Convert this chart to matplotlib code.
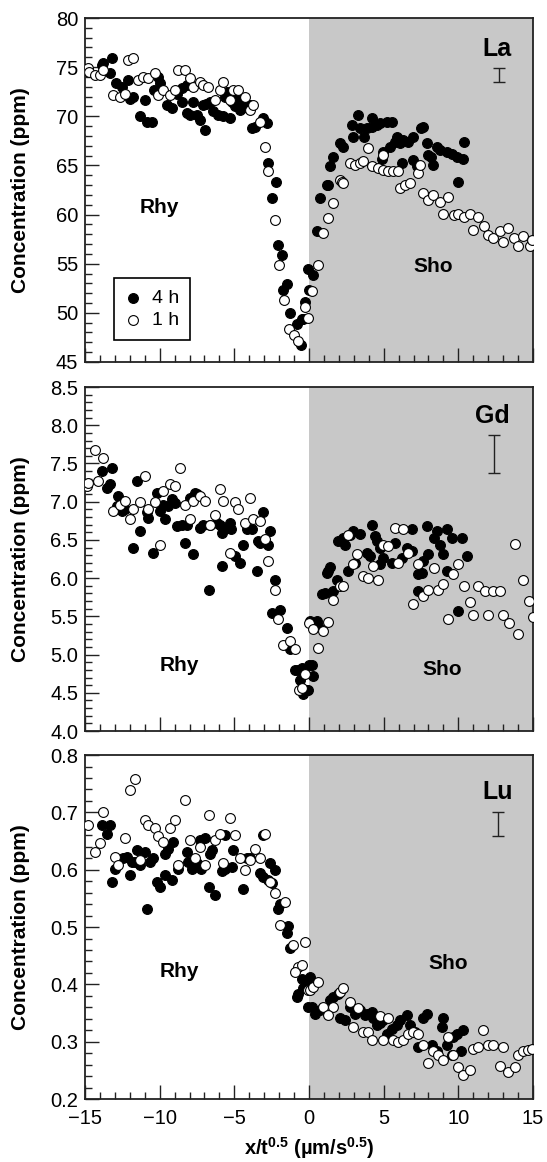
import matplotlib
matplotlib.use("Agg")
import matplotlib.pyplot as plt
from matplotlib.ticker import MultipleLocator, FormatStrFormatter

plt.rcParams['font.family'] = ['Liberation Sans', 'DejaVu Sans']
plt.rcParams['mathtext.fontset'] = 'custom'
plt.rcParams['mathtext.rm'] = 'Liberation Sans'
plt.rcParams['mathtext.bf'] = 'Liberation Sans:bold'
plt.rcParams['mathtext.it'] = 'Liberation Sans:italic'

# ---- La (ppm) ----
la_4h_x = [-13.88, -13.77, -13.2, -13.3, -12.9, -12.55, -12.1, -12.0, -11.77, -11.3, -10.98, -10.87,
           -10.53, -10.4, -10.1, -9.98, -9.53, -9.2, -8.86, -8.5, -8.5, -8.2, -8.2, -7.98, -7.76,
           -7.53, -7.3, -7.1, -6.87, -6.97, -6.63, -6.4, -6.07, -5.74, -5.3, -5.6, -5.5, -5.18,
           -4.96, -4.62, -4.85, -4.4, -4.5, -3.95, -3.84, -3.6, -3.06, -2.83, -2.73, -2.2,
           -2.5, -2.05, -1.83, -1.45, -1.72, -1.27, -0.82, -0.56, -0.38, -0.05, 0.0, 0.29, -0.27, -0.49,
           0.51, 0.74, 1.29, 1.19, 1.41, 1.63, 2.08, 2.3, 2.97, 2.86, 3.3, 3.4, 3.7, 3.86, 4.2, 4.2,
           4.53, 4.76, 4.87, 4.98, 5.2, 5.43, 5.54, 5.76, 5.87, 6.1, 6.21, 6.32, 6.65, 6.98, 6.98,
           7.2, 7.5, 7.66, 7.88, 8.0, 8.2, 8.3, 8.55, 8.77, 9.22, 9.56, 9.89, 10.0, 10.3, 10.4]
la_4h_y = [75.2, 75.4, 75.9, 74.4, 73.4, 73.0, 73.7, 71.8, 72.0, 70.0, 71.7, 69.45,
           69.45, 72.7, 74.0, 73.4, 71.15, 70.8, 72.3, 72.85, 71.5, 73.2, 70.3, 70.1, 71.5,
           70.1, 69.6, 71.15, 71.3, 68.6, 71.5, 70.5, 70.1, 70.0, 69.8, 72.0, 72.5, 71.5,
           71.0, 70.6, 72.0, 71.3, 70.8, 71.15, 68.8, 68.9, 69.8, 69.3, 65.2, 63.35,
           61.7, 56.9, 55.9, 52.9, 52.3, 50.0, 48.9, 46.7, 49.4, 54.5, 52.3, 53.9, 51.1, 49.4,
           58.3, 61.7, 63.0, 63.0, 64.9, 65.9, 67.25, 66.9, 67.9, 69.1, 70.1, 68.8, 67.9, 68.8, 69.8, 68.9,
           69.1, 69.3, 65.7, 66.4, 69.45, 66.9, 69.45, 67.4, 67.9, 67.25, 65.2, 67.6, 67.4, 67.9, 65.55,
           64.9, 68.8, 68.9, 67.25, 66.1, 65.9, 65.05, 66.9, 66.6, 66.4, 66.2, 65.9, 63.35, 65.7, 67.4]
la_1h_x = [-14.8, -14.7, -14.3, -13.98, -13.77, -13.1, -12.66, -12.3, -12.1, -11.77, -11.43, -11.1,
           -10.76, -10.3, -10.1, -9.76, -9.3, -8.97, -8.75, -8.3, -7.98, -7.76, -7.3, -7.1, -6.75,
           -6.3, -5.97, -5.74, -5.3, -5.07, -4.74, -4.29, -3.95, -3.73, -3.28, -2.95, -2.73, -2.28,
           -1.99, -1.65, -1.32, -0.98, -0.72, -0.27, -0.05, 0.18, 0.62, 0.96, 1.29, 1.63, 2.08, 2.19,
           2.3, 2.75, 3.08, 3.42, 3.64, 3.97, 4.2, 4.64, 4.98, 4.98, 5.31, 5.65, 5.98, 6.1, 6.43,
           6.76, 7.32, 7.43, 7.65, 8.0, 8.3, 8.77, 9.3, 9.0, 9.7, 10.0, 10.35, 10.8, 11.35, 11.0,
           11.7, 12.0, 12.35, 12.8, 13.35, 13.0, 13.7, 14.0, 14.35, 14.8, 14.9]
la_1h_y = [74.9, 74.55, 74.2, 74.2, 74.7, 72.2, 72.0, 72.3, 75.7, 75.9, 73.7, 74.0,
           73.9, 74.4, 72.2, 72.7, 72.2, 72.7, 74.7, 74.7, 73.9, 73.0, 73.5, 73.2, 73.0,
           71.7, 72.7, 73.5, 71.7, 72.7, 72.7, 72.0, 70.6, 71.15, 69.45, 66.9, 64.4, 59.4,
           54.9, 51.3, 48.4, 47.75, 47.1, 50.6, 49.45, 52.2, 54.9, 58.1, 59.6, 61.15, 63.5, 63.35,
           63.2, 65.2, 65.05, 65.2, 65.4, 66.75, 64.9, 64.7, 64.5, 66.1, 64.4, 64.4, 64.4, 62.7, 63.0,
           63.2, 64.2, 65.05, 62.2, 61.5, 62.0, 61.3, 61.8, 60.1, 60.0, 60.1, 59.8, 60.1, 59.8, 58.4,
           58.8, 57.9, 57.6, 58.3, 58.6, 57.2, 57.6, 56.8, 57.8, 56.8, 57.4]

# ---- Gd (ppm) ----
gd_4h_x = [-13.88, -13.2, -13.55, -13.3, -12.77, -12.88, -12.55, -12.3, -11.77, -11.54, -11.32, -10.87,
           -10.76, -10.43, -10.2, -9.98, -9.64, -9.76, -9.42, -9.2, -8.97, -8.86, -8.53, -8.3, -8.2,
           -7.98, -7.64, -7.76, -7.53, -7.3, -7.08, -6.63, -6.18, -5.96, -5.85, -5.52, -5.3, -5.2,
           -5.85, -4.96, -4.62, -4.4, -4.18, -3.84, -3.5, -3.4, -3.28, -3.06, -2.73, -2.62, -2.28,
           -6.68, -2.5, -1.94, -1.5, -1.27, -0.94, -0.72, -0.6, -0.38, -0.05, 0.0, -0.49, 0.18, 0.29,
           -0.16, 0.07, 0.51, 0.62, 0.85, 1.07, 1.63, 1.85, 1.41, 1.29, 1.19, 1.96, 2.3, 2.41, 2.63,
           2.75, 2.97, 3.08, 3.42, 3.86, 4.09, 4.2, 4.42, 4.53, 4.76, 4.76, 4.98, 5.54, 5.76, 6.23,
           6.57, 6.91, 6.91, 7.32, 7.32, 7.54, 7.66, 7.91, 8.0, 8.35, 8.58, 8.79, 9.0, 9.22, 9.25,
           9.58, 10.0, 10.25, 10.56]
gd_4h_y = [7.40, 7.44, 7.18, 7.23, 7.07, 6.94, 6.88, 6.90, 6.40, 7.27, 6.62, 6.86,
           6.79, 6.33, 7.12, 6.88, 6.77, 6.96, 6.94, 7.03, 6.98, 6.68, 6.70, 6.46, 6.70,
           7.05, 7.12, 6.31, 7.10, 6.66, 6.70, 6.70, 6.72, 6.70, 6.59, 6.66, 6.72, 6.64,
           6.16, 6.29, 6.20, 6.44, 6.64, 6.64, 6.09, 6.48, 6.46, 6.86, 6.44, 6.62, 5.97,
           5.84, 5.55, 5.58, 5.35, 5.07, 4.80, 4.80, 4.67, 4.48, 4.54, 4.87, 4.83, 4.87, 4.72,
           4.54, 5.44, 5.44, 5.37, 5.79, 5.81, 5.83, 5.98, 6.14, 6.09, 6.07, 6.48, 6.53, 6.44, 6.09,
           6.57, 6.62, 6.20, 6.58, 6.33, 6.29, 6.69, 6.55, 6.48, 6.40, 6.18, 6.27, 6.20, 6.46, 6.27,
           6.40, 6.35, 6.64, 5.83, 6.05, 6.07, 6.22, 6.68, 6.31, 6.53, 6.62, 6.44, 6.31, 6.09, 6.64,
           6.52, 5.57, 6.53, 6.29]
gd_1h_x = [-14.89, -14.78, -14.33, -14.1, -13.77, -13.1, -12.66, -12.32, -11.99, -11.77, -11.32, -10.98,
           -10.76, -10.3, -9.98, -9.76, -9.3, -8.97, -8.64, -8.3, -7.98, -7.76, -7.3, -6.97, -6.63,
           -6.3, -5.96, -5.74, -5.3, -4.96, -4.74, -4.29, -3.96, -3.73, -3.28, -2.95, -2.73, -2.28,
           -2.06, -1.72, -1.27, -0.94, -0.65, -0.27, 0.0, 0.29, 0.96, 1.29, 0.62, -0.49, 1.63, 2.08,
           2.3, 2.63, 2.97, 3.19, 3.64, 3.97, 4.31, 4.64, 4.98, 5.31, 5.76, 6.32, 5.98, 6.65, 6.98,
           7.32, 7.65, 8.0, 8.35, 8.66, 9.0, 9.33, 9.65, 9.98, 10.35, 10.78, 11.0, 11.35, 11.8, 12.0,
           12.35, 12.8, 13.0, 13.36, 13.8, 14.0, 14.36, 14.75, 14.97]
gd_1h_y = [7.20, 7.25, 7.68, 7.27, 7.57, 6.88, 6.96, 7.01, 6.77, 6.90, 6.99, 7.33,
           6.90, 6.99, 6.44, 7.14, 7.23, 7.20, 7.44, 6.96, 6.77, 7.01, 7.07, 7.01, 6.70,
           6.83, 7.16, 7.01, 6.33, 6.99, 6.90, 6.72, 7.05, 6.77, 6.75, 6.51, 6.22, 5.84,
           5.46, 5.13, 5.18, 5.07, 4.54, 4.74, 5.41, 5.33, 5.31, 5.42, 5.09, 4.56, 5.72, 5.90,
           5.90, 6.57, 6.18, 6.31, 6.03, 6.00, 6.16, 5.98, 6.44, 6.42, 6.66, 6.64, 6.20, 6.33, 5.66,
           6.18, 5.76, 5.85, 6.13, 5.85, 5.92, 5.47, 6.05, 6.18, 5.90, 5.69, 5.52, 5.90, 5.83, 5.52,
           5.83, 5.83, 5.52, 5.41, 6.45, 5.27, 5.97, 5.70, 5.49]

# ---- Lu (ppm) ----
lu_4h_x = [-13.88, -13.32, -13.55, -13.21, -12.99, -12.43, -12.2, -11.99, -11.87, -11.65, -11.54, -11.32,
           -10.98, -10.87, -10.65, -10.43, -10.2, -9.98, -9.64, -9.64, -9.42, -9.09, -9.2, -8.75, -8.2,
           -8.08, -7.86, -7.53, -7.2, -7.3, -6.97, -6.63, -6.52, -6.68, -6.3, -5.85, -5.62, -5.18,
           -5.62, -5.08, -4.4, -4.18, -3.95, -3.28, -3.06, -2.72, -2.5, -2.62, -2.28, -3.06, -2.06,
           -1.94, -1.5, -1.39, -1.27, -0.49, -0.16, -0.38, -0.83, -0.72, -0.05, 0.07, 0.18, 0.4, 0.74,
           1.63, 1.41, 1.96, 2.08, 2.41, 2.75, 3.08, 3.42, 3.75, 3.86, 4.2, 4.31, 4.53, 4.76, 4.98,
           5.2, 5.54, 5.87, 6.1, 6.54, 6.77, 7.1, 7.32, 7.66, 7.88, 8.21, 8.54, 8.99, 8.88, 9.21,
           9.66, 9.88, 10.32, 10.21, 9.55]
lu_4h_y = [0.678, 0.678, 0.663, 0.579, 0.602, 0.620, 0.623, 0.591, 0.614, 0.614, 0.634, 0.608,
           0.631, 0.532, 0.614, 0.620, 0.579, 0.570, 0.591, 0.628, 0.637, 0.649, 0.582, 0.602, 0.631,
           0.614, 0.602, 0.611, 0.602, 0.652, 0.655, 0.628, 0.634, 0.570, 0.556, 0.597, 0.602, 0.605,
           0.660, 0.634, 0.567, 0.620, 0.620, 0.594, 0.588, 0.582, 0.576, 0.611, 0.599, 0.660, 0.532,
           0.541, 0.489, 0.501, 0.463, 0.410, 0.402, 0.393, 0.378, 0.384, 0.361, 0.413, 0.361, 0.349, 0.355,
           0.378, 0.373, 0.384, 0.341, 0.338, 0.361, 0.349, 0.355, 0.347, 0.349, 0.352, 0.341, 0.329, 0.332, 0.338,
           0.314, 0.323, 0.329, 0.338, 0.347, 0.329, 0.317, 0.291, 0.341, 0.349, 0.294, 0.283, 0.341, 0.326, 0.294,
           0.309, 0.314, 0.320, 0.283, 0.277]
lu_1h_x = [-14.78, -13.77, -14.33, -14.0, -12.99, -12.77, -12.32, -11.99, -11.65, -11.32, -10.98, -10.76,
           -10.31, -10.09, -9.76, -9.31, -8.97, -8.75, -8.3, -7.97, -7.64, -7.31, -6.97, -6.68, -6.31,
           -5.97, -5.74, -5.29, -4.96, -4.62, -4.29, -3.95, -3.62, -3.28, -2.95, -2.61, -2.28, -1.61,
           -1.94, -1.05, -0.27, -0.72, -0.94, -0.05, -0.49, 0.07, 0.29, 0.62, 0.96, 1.63, 1.29, 2.08,
           2.3, 2.75, 3.31, 2.97, 3.64, 3.97, 4.2, 4.98, 4.76, 5.31, 5.65, 5.98, 6.32, 6.65, 6.98,
           7.32, 7.66, 7.99, 8.33, 8.66, 8.99, 9.33, 9.66, 9.99, 10.32, 10.77, 10.99, 11.32, 11.66,
           11.99, 12.32, 12.99, 12.78, 13.35, 13.79, 14.0, 14.34, 14.68, 14.9]
lu_1h_y = [0.678, 0.701, 0.631, 0.646, 0.623, 0.608, 0.655, 0.739, 0.759, 0.617, 0.687, 0.678,
           0.672, 0.658, 0.649, 0.672, 0.687, 0.608, 0.721, 0.652, 0.620, 0.640, 0.608, 0.695, 0.652,
           0.663, 0.611, 0.690, 0.660, 0.620, 0.599, 0.617, 0.637, 0.620, 0.663, 0.579, 0.559, 0.544,
           0.503, 0.469, 0.474, 0.431, 0.422, 0.390, 0.434, 0.390, 0.396, 0.405, 0.361, 0.361, 0.347, 0.387,
           0.393, 0.370, 0.358, 0.326, 0.317, 0.317, 0.303, 0.303, 0.344, 0.341, 0.303, 0.300, 0.303, 0.314, 0.317,
           0.314, 0.294, 0.262, 0.283, 0.277, 0.268, 0.309, 0.277, 0.256, 0.242, 0.251, 0.288, 0.291, 0.320,
           0.294, 0.294, 0.291, 0.258, 0.248, 0.256, 0.277, 0.283, 0.285, 0.287]

# element label, y-range, major/minor step, tick format, error bar (center, half width)
elements = ['La', 'Gd', 'Lu']
y_limits = [(45, 80), (4.0, 8.5), (0.2, 0.8)]
y_major = [5, 0.5, 0.1]
y_minor = [1, 0.1, 0.02]
y_fmt = ['%d', '%.1f', '%.1f']
err_center = [74.2, 7.62, 0.680]
err_half = [0.7, 0.25, 0.021]
series_4h = [(la_4h_x, la_4h_y), (gd_4h_x, gd_4h_y), (lu_4h_x, lu_4h_y)]
series_1h = [(la_1h_x, la_1h_y), (gd_1h_x, gd_1h_y), (lu_1h_x, lu_1h_y)]

# text positions per panel (data coords)
label_pos = [(12.6, 76.8), (12.3, 8.12), (12.6, 0.735)]
err_x = [12.7, 12.4, 12.65]
rhy_pos = [(-10.0, 60.7), (-8.7, 4.86), (-8.7, 0.423)]
sho_pos = [(8.3, 54.7), (8.9, 4.8), (9.3, 0.437)]

fig = plt.figure(figsize=(5.47, 11.62), dpi=100)
bottoms = [0.6885, 0.3709, 0.0542]
axes = []
for i in range(3):
    ax = fig.add_axes([0.1554, bottoms[i], 0.819, 0.296])
    axes.append(ax)
    ax.axvspan(0, 15, color='#c8c8c8', zorder=0, lw=0)

    x4, y4 = series_4h[i]
    x1, y1 = series_1h[i]
    ax.scatter(x4, y4, s=50, c='black', edgecolors='black', linewidths=0.8, zorder=3, label='4 h')
    ax.scatter(x1, y1, s=50, c='white', edgecolors='black', linewidths=0.8, zorder=4, label='1 h')

    ax.errorbar([err_x[i]], [err_center[i]], yerr=[err_half[i]], fmt='none',
                ecolor='#222222', elinewidth=1.0, capsize=4.5, capthick=1.0, zorder=5)

    ax.text(label_pos[i][0], label_pos[i][1], elements[i], fontsize=18, fontweight='bold',
            ha='center', va='center')
    ax.text(rhy_pos[i][0], rhy_pos[i][1], 'Rhy', fontsize=15, fontweight='bold', ha='center', va='center')
    ax.text(sho_pos[i][0], sho_pos[i][1], 'Sho', fontsize=15, fontweight='bold', ha='center', va='center')

    ax.set_xlim(-15, 15)
    ax.set_ylim(*y_limits[i])
    ax.xaxis.set_major_locator(MultipleLocator(5))
    ax.xaxis.set_minor_locator(MultipleLocator(1))
    ax.yaxis.set_major_locator(MultipleLocator(y_major[i]))
    ax.yaxis.set_minor_locator(MultipleLocator(y_minor[i]))
    ax.yaxis.set_major_formatter(FormatStrFormatter(y_fmt[i]))
    ax.tick_params(which='both', direction='in', top=False, right=False, width=1.0, color='#222222')
    ax.tick_params(which='major', length=10, labelsize=14.5)
    ax.tick_params(axis='y', which='major', pad=5)
    ax.tick_params(axis='x', which='major', pad=7)
    ax.tick_params(which='minor', length=5)
    for sp in ax.spines.values():
        sp.set_linewidth(1.3)
        sp.set_color('#222222')

    ax.set_ylabel('Concentration (ppm)', fontsize=15, fontweight='bold')
    ax.yaxis.set_label_coords(-0.123, 0.5)
    if i < 2:
        ax.set_xticklabels([])

axes[0].legend(loc='lower left', bbox_to_anchor=(0.065, 0.064), borderaxespad=0, fontsize=14,
               frameon=True, fancybox=False, edgecolor='black', framealpha=1,
               handlelength=0.8, handletextpad=0.6, borderpad=0.55, labelspacing=0.25)
axes[0].get_legend().get_frame().set_linewidth(1.2)

axes[2].set_xlabel(r'$\mathbf{x/t^{0.5}\ (µm/s^{0.5})}$', fontsize=14.5, labelpad=5)

fig.savefig('out.png', dpi=100)
